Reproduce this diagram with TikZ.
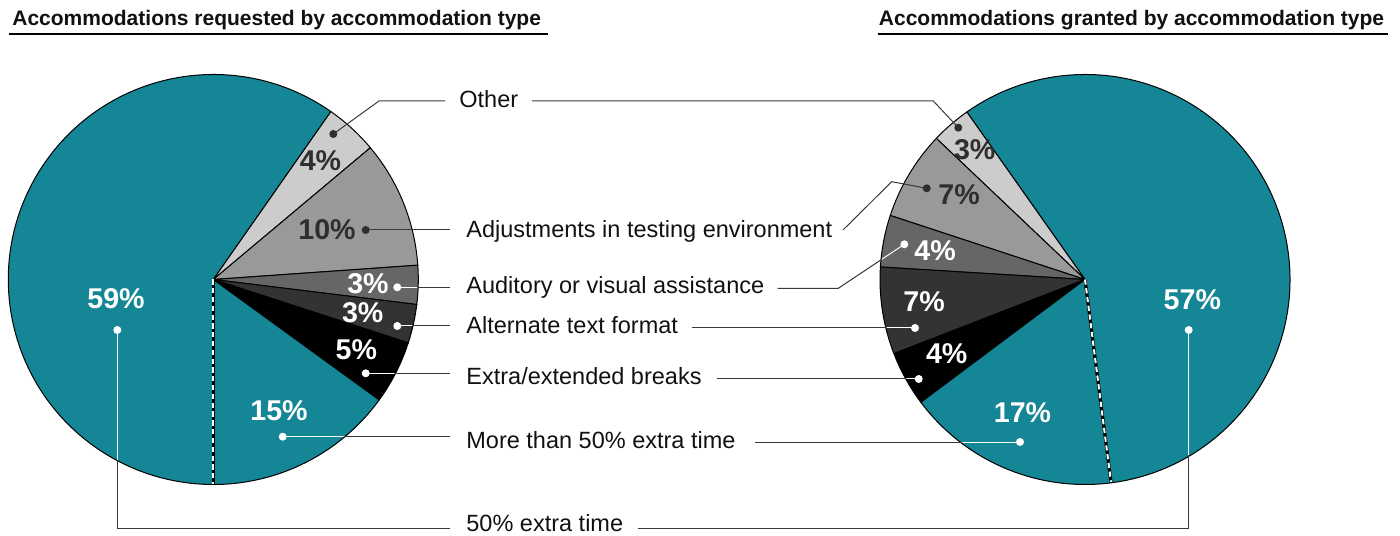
\documentclass[tikz,border=0pt]{standalone}
\usepackage{fontspec}
\setmainfont{Liberation Sans}
\definecolor{piteal}{RGB}{21,134,149}
\definecolor{gA}{HTML}{CCCCCC}
\definecolor{gB}{HTML}{999999}
\definecolor{gC}{HTML}{666666}
\definecolor{gD}{HTML}{333333}
\definecolor{dtxt}{HTML}{2E2E2E}
\definecolor{lblc}{HTML}{111111}
\definecolor{connc}{HTML}{3A3A3A}
\tikzset{
  wedge/.style={draw=black, line width=0.5pt, line join=round},
  pct/.style={font=\bfseries\fontsize{14.3}{16}\selectfont, inner sep=0pt},
  pctw/.style={pct, text=white},
  pctd/.style={pct, text=dtxt},
  lbl/.style={font=\fontsize{11.75}{14}\selectfont, anchor=base west, inner sep=0pt, text=lblc},
  ttl/.style={font=\bfseries\fontsize{10.5}{12}\selectfont, anchor=base west, inner sep=0pt, text=lblc},
  conn/.style={draw=connc, line width=0.5pt},
  connw/.style={draw=white, line width=0.5pt},
  dotw/.style={circle, fill=white, inner sep=0pt, minimum size=4pt},
  dotd/.style={circle, fill=dtxt, inner sep=0pt, minimum size=4pt},
  sepblack/.style={draw=black, line width=1.6pt},
  sepwhite/.style={draw=white, line width=1pt, dash pattern=on 2.6pt off 1.8pt},
}
\begin{document}
\begin{tikzpicture}[x=0.5pt,y=0.5pt]
\useasboundingbox (0,0) rectangle (1400,535);
% pie centres
\coordinate (L) at (213.3,255.5);
\coordinate (R) at (1085,255.5);
% ---------- left pie ----------
\filldraw[wedge, fill=piteal] (L) -- ++(55:205) arc[start angle=55, end angle=270, radius=205] -- cycle;
\filldraw[wedge, fill=gA] (L) -- ++(40:205) arc[start angle=40, end angle=55, radius=205] -- cycle;
\filldraw[wedge, fill=gB] (L) -- ++(4:205) arc[start angle=4, end angle=40, radius=205] -- cycle;
\filldraw[wedge, fill=gC] (L) -- ++(-7:205) arc[start angle=-7, end angle=4, radius=205] -- cycle;
\filldraw[wedge, fill=gD] (L) -- ++(-18:205) arc[start angle=-18, end angle=-7, radius=205] -- cycle;
\filldraw[wedge, fill=black] (L) -- ++(-36:205) arc[start angle=-36, end angle=-18, radius=205] -- cycle;
\filldraw[wedge, fill=piteal] (L) -- ++(-90:205) arc[start angle=-90, end angle=-36, radius=205] -- cycle;
% ---------- right pie ----------
\filldraw[wedge, fill=piteal] (R) -- ++(-82.7:205) arc[start angle=-82.7, end angle=125.2, radius=205] -- cycle;
\filldraw[wedge, fill=gA] (R) -- ++(125.2:205) arc[start angle=125.2, end angle=136.5, radius=205] -- cycle;
\filldraw[wedge, fill=gB] (R) -- ++(136.5:205) arc[start angle=136.5, end angle=161.8, radius=205] -- cycle;
\filldraw[wedge, fill=gC] (R) -- ++(161.8:205) arc[start angle=161.8, end angle=176.5, radius=205] -- cycle;
\filldraw[wedge, fill=gD] (R) -- ++(176.5:205) arc[start angle=176.5, end angle=201.2, radius=205] -- cycle;
\filldraw[wedge, fill=black] (R) -- ++(201.2:205) arc[start angle=201.2, end angle=216.8, radius=205] -- cycle;
\filldraw[wedge, fill=piteal] (R) -- ++(216.8:205) arc[start angle=216.8, end angle=277.3, radius=205] -- cycle;
% dashed separators
\draw[sepblack] (L) -- ++(-90:204);
\draw[sepwhite] (L) -- ++(-90:204);
\draw[sepblack] (R) -- ++(-82.7:204);
\draw[sepwhite] (R) -- ++(-82.7:204);

% ---------- titles ----------
\node[ttl] (t1) at (12,509) {Accommodations requested by accommodation type};
\node[ttl] (t2) at (878.5,509) {Accommodations granted by accommodation type};
\coordinate (u1a) at (9,501); \coordinate (u1b) at (548,501);
\coordinate (u2a) at (877.5,501); \coordinate (u2b) at (1388,501);
\draw[line width=0.8pt] (u1a) -- (u1b);
\draw[line width=0.8pt] (u2a) -- (u2b);

% ---------- category labels ----------
\node[lbl] (tO) at (459,427.6) {Other};
\node[lbl] (tAdj) at (466,297.5) {Adjustments in testing environment};
\node[lbl] (tAud) at (466,241) {Auditory or visual assistance};
\node[lbl] (tAlt) at (466,201.7) {Alternate text format};
\node[lbl] (tBrk) at (466,150.5) {Extra/extended breaks};
\node[lbl] (tMore) at (466,86.5) {More than 50\% extra time};
\node[lbl] (tFifty) at (466,3.5) {50\% extra time};

% ---------- dots ----------
\coordinate (dLO) at (333.3,401);
\coordinate (dLAdj) at (365.7,305);
\coordinate (dLAud) at (397.3,247.7);
\coordinate (dLAlt) at (397.3,209);
\coordinate (dLBrk) at (365.7,161.7);
\coordinate (dLMore) at (282.7,98.3);
\coordinate (dLF) at (117.3,205);
\coordinate (dRO) at (958.3,407.3);
\coordinate (dRAdj) at (926.7,346.7);
\coordinate (dRAud) at (904.3,290.7);
\coordinate (dRAlt) at (915,207);
\coordinate (dRBrk) at (918.7,156);
\coordinate (dRMore) at (1020,93);
\coordinate (dRF) at (1188.7,205);

% connector bends / ends
\coordinate (kLO) at (379,434); \coordinate (eLO) at (445,434);
\coordinate (sRO) at (532,434); \coordinate (kRO) at (933.3,434);
\coordinate (eLAdj) at (450,305);
\coordinate (sRAdj) at (843,305); \coordinate (kRAdj) at (891.7,353.3);
\coordinate (eLAud) at (450,247.7);
\coordinate (sRAud) at (777.7,246.7); \coordinate (kRAud) at (838.3,246.7);
\coordinate (eLAlt) at (450,209);
\coordinate (sRAlt) at (691.7,207);
\coordinate (eLBrk) at (450,161.7);
\coordinate (sRBrk) at (716.7,156);
\coordinate (eLMore) at (450,98.3);
\coordinate (sRMore) at (755,93);
\coordinate (kLF) at (117.3,7); \coordinate (eLF) at (450,7);
\coordinate (sRF) at (638.3,7); \coordinate (kRF) at (1188.7,7);

\newcommand{\connpaths}[1]{%
  \draw[#1] (dLAud) -- (eLAud);
  \draw[#1] (dLAlt) -- (eLAlt);
  \draw[#1] (dLBrk) -- (eLBrk);
  \draw[#1] (dLMore) -- (eLMore);
  \draw[#1] (dLF) -- (kLF) -- (eLF);
  \draw[#1] (sRAud) -- (kRAud) -- (dRAud);
  \draw[#1] (sRAlt) -- (dRAlt);
  \draw[#1] (sRBrk) -- (dRBrk);
  \draw[#1] (sRMore) -- (dRMore);
  \draw[#1] (sRF) -- (kRF) -- (dRF);
}
% dark connectors
\draw[conn] (dLO) -- (kLO) -- (eLO);
\draw[conn] (sRO) -- (kRO) -- (dRO);
\draw[conn] (dLAdj) -- (eLAdj);
\draw[conn] (sRAdj) -- (kRAdj) -- (dRAdj);
\connpaths{conn}
% white parts inside the pies
\begin{scope}
  \clip (L) circle[radius=204];
  \connpaths{connw}
\end{scope}
\begin{scope}
  \clip (R) circle[radius=204];
  \connpaths{connw}
\end{scope}

% dot markers
\node[dotd] (mLO) at (dLO) {};
\node[dotd] (mLAdj) at (dLAdj) {};
\node[dotw] (mLAud) at (dLAud) {};
\node[dotw] (mLAlt) at (dLAlt) {};
\node[dotw] (mLBrk) at (dLBrk) {};
\node[dotw] (mLMore) at (dLMore) {};
\node[dotw] (mLF) at (dLF) {};
\node[dotd] (mRO) at (dRO) {};
\node[dotd] (mRAdj) at (dRAdj) {};
\node[dotw] (mRAud) at (dRAud) {};
\node[dotw] (mRAlt) at (dRAlt) {};
\node[dotw] (mRBrk) at (dRBrk) {};
\node[dotw] (mRMore) at (dRMore) {};
\node[dotw] (mRF) at (dRF) {};

% ---------- percentages ----------
\node[pctd] (pLO) at (320.5,374.7) {4\%};
\node[pctd] (pLAdj) at (327,305.3) {10\%};
\node[pctw] (pLAud) at (368,251.3) {3\%};
\node[pctw] (pLAlt) at (362.7,222.5) {3\%};
\node[pctw] (pLBrk) at (356.3,185) {5\%};
\node[pctw] (pLMore) at (279,124.7) {15\%};
\node[pctw] (pLF) at (116,236.2) {59\%};
\node[pctd] (pRO) at (974.7,385.3) {3\%};
\node[pctd] (pRAdj) at (959,340) {7\%};
\node[pctw] (pRAud) at (935,284.7) {4\%};
\node[pctw] (pRAlt) at (924,233) {7\%};
\node[pctw] (pRBrk) at (946.7,181.2) {4\%};
\node[pctw] (pRMore) at (1022.5,122.3) {17\%};
\node[pctw] (pRF) at (1192.3,235.3) {57\%};
\end{tikzpicture}
\end{document}
